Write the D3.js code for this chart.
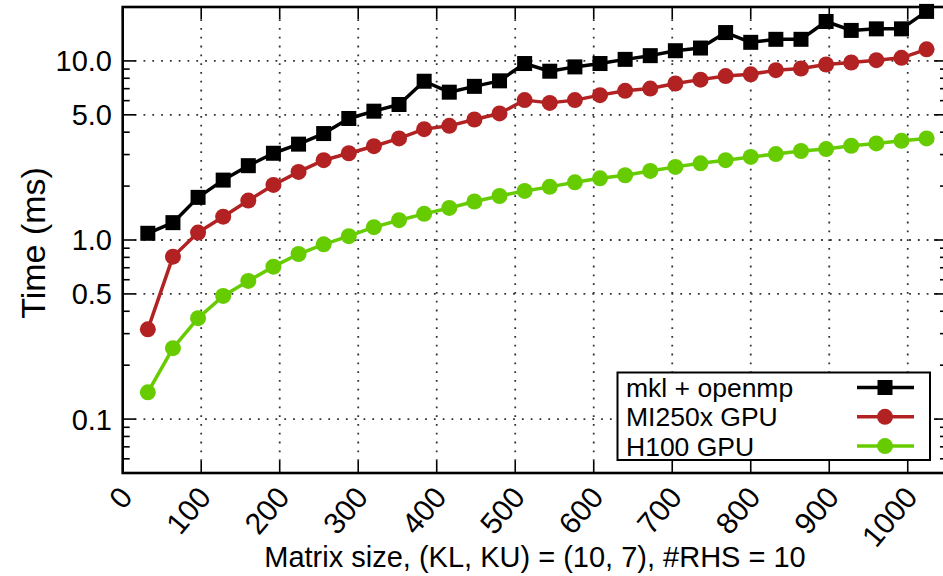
<!DOCTYPE html>
<html>
<head>
<meta charset="utf-8">
<script src="https://cdn.jsdelivr.net/npm/d3@7"></script>
<style>
  html, body { margin: 0; padding: 0; background: #fff; }
  svg { display: block; font-family: "Liberation Sans", Arial, Helvetica, sans-serif; }
</style>
</head>
<body>
<svg id="chart" width="943" height="576"></svg>
<script>
// Matrix sizes (x) and measured times in ms for each solver
const sizes = [32, 64, 96, 128, 160, 192, 224, 256, 288, 320, 352, 384, 416, 448, 480, 512,
               544, 576, 608, 640, 672, 704, 736, 768, 800, 832, 864, 896, 928, 960, 992, 1024];
const mklOpenmp = [1.09, 1.25, 1.73, 2.16, 2.60, 3.05, 3.43, 3.93, 4.77, 5.24, 5.71, 7.70, 6.69, 7.21, 7.74, 9.67,
                   8.76, 9.26, 9.67, 10.2, 10.7, 11.4, 11.8, 14.4, 12.7, 13.2, 13.2, 16.6, 14.8, 15.1, 15.1, 18.9];
const mi250x = [0.317, 0.807, 1.10, 1.35, 1.66, 2.03, 2.40, 2.79, 3.05, 3.34, 3.69, 4.16, 4.34, 4.71, 5.09, 6.04,
                5.83, 6.04, 6.44, 6.81, 7.01, 7.48, 7.86, 8.23, 8.42, 8.88, 9.07, 9.55, 9.80, 10.1, 10.4, 11.6];
const h100 = [0.141, 0.249, 0.366, 0.487, 0.591, 0.710, 0.835, 0.946, 1.05, 1.18, 1.29, 1.40, 1.51, 1.64, 1.76, 1.88,
              1.98, 2.10, 2.21, 2.30, 2.43, 2.56, 2.68, 2.79, 2.91, 3.02, 3.14, 3.22, 3.36, 3.46, 3.58, 3.69];

const seriesNames = ["mkl + openmp", "MI250x GPU", "H100 GPU"];
const seriesColors = ["#000000", "#b22222", "#66cc00"];
const seriesShapes = ["square", "circle", "circle"];

const xTicks = [0, 100, 200, 300, 400, 500, 600, 700, 800, 900, 1000];
const yTicks = [0.1, 0.5, 1, 5, 10];
const yTickLabels = ["0.1", "0.5", "1.0", "5.0", "10.0"];
const xTitle = "Matrix size, (KL, KU) = (10, 7), #RHS = 10";
const yTitle = "Time (ms)";

const svg = d3.select("#chart");
const plot = { left: 122.7, right: 947, top: 7, bottom: 473 };

const x = d3.scaleLinear().domain([0, 1050]).range([plot.left, plot.right]);
const y = d3.scaleLog().domain([0.05, 20]).range([plot.bottom, plot.top]);

// minor log ticks: 2..9 of each decade inside the domain
const minorY = [];
[0.01, 0.1, 1, 10].forEach(d => {
  for (let k = 2; k <= 9; k++) {
    const v = +(d * k).toPrecision(3);
    if (v >= 0.05 && v <= 20 && !yTicks.includes(v)) minorY.push(v);
  }
});

// dotted grid
const grid = svg.append("g");
grid.selectAll("line.gy").data(yTicks).join("line")
  .attr("x1", plot.left + 12).attr("x2", plot.right)
  .attr("y1", d => y(d)).attr("y2", d => y(d))
  .attr("stroke", "#333").attr("stroke-width", 1.8)
  .attr("stroke-dasharray", "1.8,7");
grid.selectAll("line.gx").data(xTicks.filter(d => d > 0)).join("line")
  .attr("x1", d => x(d)).attr("x2", d => x(d))
  .attr("y1", plot.bottom - 12).attr("y2", plot.top + 12)
  .attr("stroke", "#333").attr("stroke-width", 1.8)
  .attr("stroke-dasharray", "1.8,7");

// ticks on all four sides
const ticks = svg.append("g").attr("stroke", "#000").attr("stroke-width", 1.6);
xTicks.forEach(v => {
  ticks.append("line").attr("x1", x(v)).attr("x2", x(v)).attr("y1", plot.bottom).attr("y2", plot.bottom - 12);
  ticks.append("line").attr("x1", x(v)).attr("x2", x(v)).attr("y1", plot.top).attr("y2", plot.top + 12);
});
yTicks.forEach(v => {
  ticks.append("line").attr("x1", plot.left).attr("x2", plot.left + 13).attr("y1", y(v)).attr("y2", y(v));
  ticks.append("line").attr("x1", plot.right).attr("x2", plot.right - 13).attr("y1", y(v)).attr("y2", y(v));
});
minorY.forEach(v => {
  ticks.append("line").attr("x1", plot.left).attr("x2", plot.left + 7).attr("y1", y(v)).attr("y2", y(v));
  ticks.append("line").attr("x1", plot.right).attr("x2", plot.right - 7).attr("y1", y(v)).attr("y2", y(v));
});

// series lines and markers
const allSeries = [mklOpenmp, mi250x, h100];
const line = d3.line().x((d, i) => x(sizes[i])).y(d => y(d));
allSeries.forEach((vals, s) => {
  const g = svg.append("g");
  g.append("path").datum(vals).attr("d", line)
    .attr("fill", "none").attr("stroke", seriesColors[s]).attr("stroke-width", 3.5)
    .attr("stroke-linejoin", "round");
  if (seriesShapes[s] === "square") {
    g.selectAll("rect").data(vals).join("rect")
      .attr("x", (d, i) => x(sizes[i]) - 7.5).attr("y", d => y(d) - 7.5)
      .attr("width", 15).attr("height", 15).attr("fill", seriesColors[s]);
  } else {
    g.selectAll("circle").data(vals).join("circle")
      .attr("cx", (d, i) => x(sizes[i])).attr("cy", d => y(d))
      .attr("r", 8).attr("fill", seriesColors[s]);
  }
});

// frame
svg.append("rect")
  .attr("x", plot.left).attr("y", plot.top)
  .attr("width", plot.right - plot.left).attr("height", plot.bottom - plot.top)
  .attr("fill", "none").attr("stroke", "#000").attr("stroke-width", 2.6);

// tick labels
svg.append("g").selectAll("text").data(yTicks).join("text")
  .attr("x", 112).attr("y", d => y(d)).attr("dy", "0.36em")
  .attr("text-anchor", "end").attr("font-size", 29).attr("fill", "#000")
  .text((d, i) => yTickLabels[i]);

svg.append("g").selectAll("text").data(xTicks).join("text")
  .attr("transform", d => `translate(${x(d) + 3},${plot.bottom + 18}) rotate(-50)`)
  .attr("dy", "0.36em")
  .attr("text-anchor", "end").attr("font-size", 30).attr("fill", "#000")
  .text(d => d);

// axis titles
svg.append("text")
  .attr("x", 535).attr("y", 567).attr("text-anchor", "middle")
  .attr("font-size", 29).attr("fill", "#000").text(xTitle);
svg.append("text")
  .attr("transform", `translate(45,243) rotate(-90)`).attr("text-anchor", "middle")
  .attr("font-size", 34).attr("fill", "#000").text(yTitle);

// legend
const legend = svg.append("g");
legend.append("rect")
  .attr("x", 617.5).attr("y", 372.5).attr("width", 312.5).attr("height", 87.5)
  .attr("fill", "#fff").attr("stroke", "#000").attr("stroke-width", 2);
seriesNames.forEach((name, s) => {
  const ly = 387.5 + s * 29.3;
  legend.append("text").attr("x", 626).attr("y", ly).attr("dy", "0.36em")
    .attr("font-size", 26.5).attr("fill", "#000").text(name);
  legend.append("line").attr("x1", 857).attr("x2", 914).attr("y1", ly).attr("y2", ly)
    .attr("stroke", seriesColors[s]).attr("stroke-width", 3.5);
  if (seriesShapes[s] === "square") {
    legend.append("rect").attr("x", 885 - 7.5).attr("y", ly - 7.5)
      .attr("width", 15).attr("height", 15).attr("fill", seriesColors[s]);
  } else {
    legend.append("circle").attr("cx", 885).attr("cy", ly).attr("r", 8).attr("fill", seriesColors[s]);
  }
});
</script>
</body>
</html>
